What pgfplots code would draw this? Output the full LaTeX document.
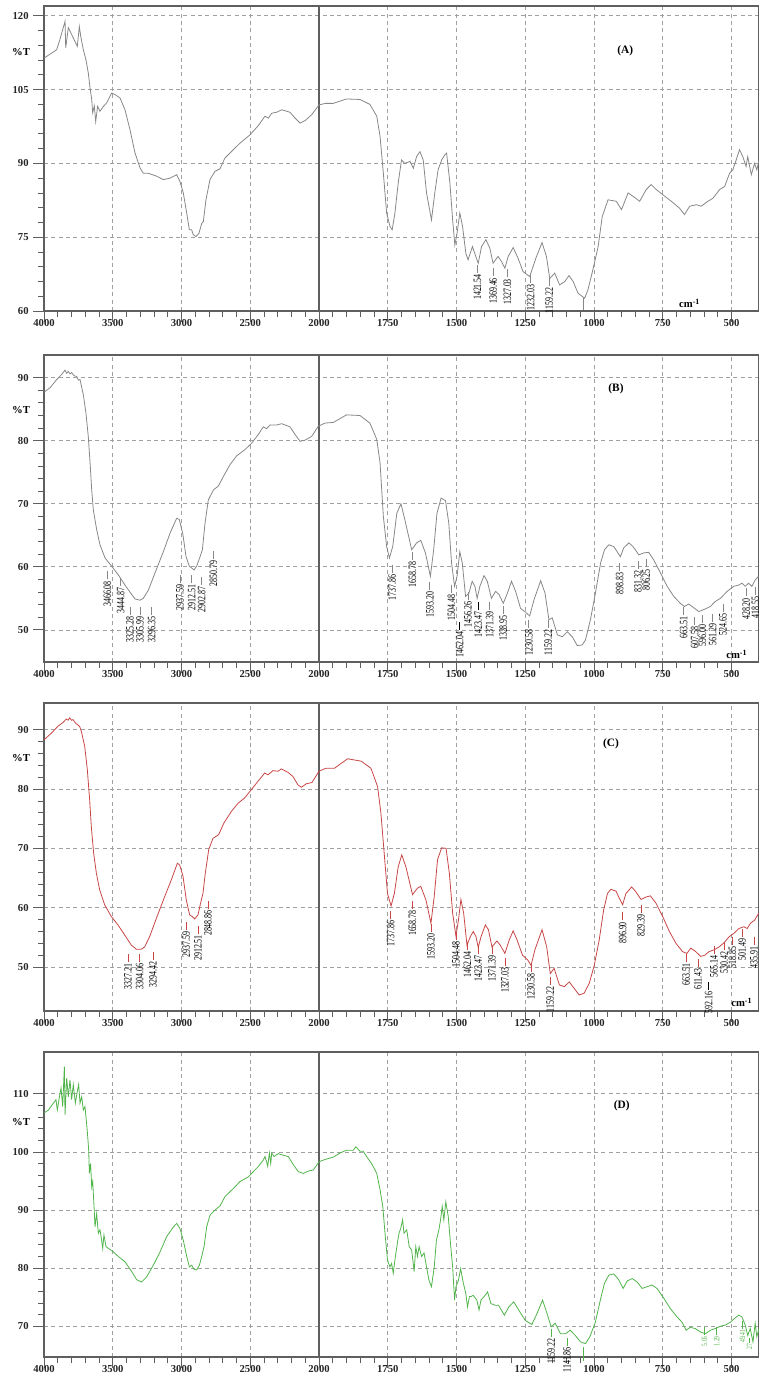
\documentclass[border=0pt]{standalone}
\usepackage{pgfplots}
\pgfplotsset{compat=1.18}
\usepackage{fontspec}
\setmainfont{Liberation Serif}
\newfontfamily\pkfont[FakeStretch=0.7]{Liberation Serif}
\definecolor{cA}{RGB}{135,135,135}
\definecolor{cC}{RGB}{200,70,70}
\definecolor{cD}{RGB}{80,180,75}
\definecolor{gridc}{RGB}{160,160,160}
\definecolor{framec}{RGB}{95,95,95}

\pgfplotsset{
  x coord trafo/.code={\pgfmathparse{ifthenelse(#1>=2000,(4000-#1)/2,3000-#1)}},
  ftir/.style={
    scale only axis, width=536.25pt, anchor=south west,
    xmin=4000, xmax=400, clip mode=individual,
    xtick={4000,3500,3000,2500,2000,1750,1500,1250,1000,750,500},
    xticklabels={4000,3500,3000,2500,2000,1750,1500,1250,1000,750,500},
    minor x tick num=4, minor y tick num=4,
    extra x ticks={2000}, extra x tick labels={},
    extra x tick style={major grid style={solid,framec,line width=1.1pt}},
    grid=major, major grid style={gridc, line width=0.5pt, dash pattern=on 3pt off 2.5pt},
    axis line style={framec, line width=0.9pt},
    tick style={framec, line width=0.6pt},
    tick align=outside, xtick pos=bottom, ytick pos=left,
    major tick length=8pt, minor tick length=4.5pt,
    tick label style={font=\bfseries\fontsize{8}{9}\selectfont, text=black!85},
    xticklabel style={yshift=5.5pt},
    /pgf/number format/assume math mode=true,
  },
}
\tikzset{
  pk/.style={rotate=90, anchor=east, inner sep=0pt, font=\pkfont\fontsize{8.5}{9}\selectfont},
  pks/.style={rotate=90, anchor=east, inner sep=0pt, font=\pkfont\fontsize{6}{6}\selectfont},
}
\newcommand\pk[4][black]{\node[pk] at (axis cs:#2,#3) {#4\hspace{1.2pt}\textcolor{#1}{\rule[0.3em]{6pt}{0.5pt}}};}
\newcommand\pkl[4][black]{\node[pk] at (axis cs:#2,#3) {\textcolor{#1}{\rule[0.3em]{#4}{0.6pt}}};}

\begin{document}
\begin{tikzpicture}
\path[use as bounding box] (0,0) rectangle (569.25pt,1032pt);

% ---------------- (A)
\begin{axis}[ftir, at={(33pt,798.75pt)}, height=228.75pt,
  ymin=60, ymax=122, ytick={60,75,90,105,120},
  extra description/.code={
    \node[font=\bfseries\fontsize{8}{9}\selectfont] at (-0.032,0.849) {\%T};
    \node[font=\bfseries\fontsize{8.5}{9}\selectfont] at (0.813,0.852) {(A)};
    \node[font=\bfseries\fontsize{8}{9}\selectfont] at (0.903,0.025) {cm\textsuperscript{-1}};
  }]
\addplot[cA, line width=0.6pt] coordinates {
(4000,111.4)(3908,113.1)(3884,115.2)(3847,118.9)(3842,113.5)(3823,117.6)(3799,116.2)(3775,114.8)
(3758,113.8)(3743,117.8)(3733,115.9)(3714,113.1)(3695,111.1)(3678,108.4)(3665,105.3)(3653,103.0)
(3646,100.3)(3634,101.7)(3624,98.5)(3610,101.6)(3593,100.6)(3568,101.6)(3544,102.3)(3508,104.3)
(3484,104.0)(3447,103.3)(3411,100.9)(3375,96.9)(3338,92.1)(3302,89.1)(3278,88.0)(3241,88.0)
(3181,87.4)(3132,86.7)(3084,87.0)(3035,87.7)(3011,86.3)(2987,84.0)(2962,79.9)(2943,76.5)
(2926,76.5)(2914,75.5)(2895,75.1)(2873,75.8)(2853,77.8)(2841,78.2)(2822,82.6)(2793,86.7)
(2756,88.4)(2720,88.9)(2684,91.1)(2623,92.8)(2575,94.1)(2502,95.8)(2441,97.7)(2393,99.6)
(2368,99.2)(2344,100.2)(2308,100.4)(2271,100.9)(2211,100.4)(2174,99.2)(2138,98.2)(2101,98.7)
(2053,99.9)(2000,101.9)(1976,102.2)(1948,102.2)(1900,103.1)(1851,103.0)(1815,102.0)(1790,99.6)
(1778,95.5)(1766,88.0)(1754,79.9)(1742,77.2)(1734,76.5)(1724,79.9)(1712,86.0)(1700,90.7)
(1688,90.0)(1669,90.4)(1657,89.0)(1645,91.4)(1633,92.4)(1621,90.7)(1609,84.0)(1591,78.5)
(1579,84.0)(1567,88.7)(1554,90.7)(1542,91.8)(1536,92.1)(1524,86.0)(1514,78.5)(1506,73.4)
(1498,75.8)(1488,79.9)(1478,77.2)(1466,71.7)(1458,70.4)(1442,73.1)(1430,71.1)(1421,69.7)
(1409,73.1)(1393,74.5)(1379,72.8)(1367,69.7)(1349,71.1)(1336,70.0)(1324,68.7)(1312,71.1)
(1294,72.9)(1276,70.7)(1258,68.0)(1234,67.0)(1209,71.1)(1189,73.9)(1173,71.1)(1161,66.6)
(1143,67.7)(1125,65.3)(1106,66.0)(1091,67.2)(1076,66.0)(1058,63.6)(1034,62.6)(1022,64.3)
(1004,68.4)(985,73.1)(970,79.2)(949,82.6)(919,82.3)(900,80.6)(876,84.0)(858,83.3)
(834,82.3)(810,84.7)(792,85.7)(774,84.7)(749,83.6)(719,82.3)(689,80.9)(671,79.6)
(652,81.3)(628,81.6)(610,81.3)(586,82.3)(568,82.9)(543,84.7)(525,85.3)(507,88.0)
(495,88.7)(483,90.7)(471,92.8)(459,91.4)(447,89.4)(441,91.4)(428,87.7)(416,90.0)
(408,88.7)(400,90.7)};
\pk[cA]{1424}{69.5}{1421.54}
\pk[cA]{1367}{68.7}{1369.46}
\pk[cA]{1315}{68.5}{1327.03}
\pk[cA]{1230}{67.4}{1232.03}
\pk[cA]{1163}{66.7}{1159.22}
\pkl[cA]{1034}{62.6}{9pt}
\end{axis}

% ---------------- (B)
\begin{axis}[ftir, at={(33pt,535.5pt)}, height=230.25pt,
  ymin=44.9, ymax=93.6, ytick={50,60,70,80,90},
  extra description/.code={
    \node[font=\bfseries\fontsize{8}{9}\selectfont] at (-0.032,0.821) {\%T};
    \node[font=\bfseries\fontsize{8.5}{9}\selectfont] at (0.80,0.889) {(B)};
    \node[font=\bfseries\fontsize{8}{9}\selectfont] at (0.969,0.025) {cm\textsuperscript{-1}};
  }]
\addplot[cA, line width=0.6pt] coordinates {
(4000,87.7)(3956,88.4)(3908,89.7)(3872,90.5)(3847,91.2)(3835,90.7)(3823,91.0)(3811,90.6)(3799,90.8)
(3780,90.3)(3762,90.2)(3750,89.6)(3738,89.7)(3714,87.3)(3695,84.4)(3678,80.7)(3665,76.5)
(3653,72.2)(3641,69.0)(3617,65.9)(3593,63.5)(3556,61.4)(3508,60.1)(3459,58.7)(3411,57.1)
(3362,55.6)(3338,54.9)(3302,54.7)(3278,55.0)(3241,56.3)(3193,59.0)(3132,62.4)(3084,65.3)
(3035,67.7)(3016,67.5)(2991,65.3)(2967,61.6)(2943,60.1)(2926,59.8)(2909,59.5)(2890,60.1)
(2865,61.6)(2848,62.7)(2829,66.9)(2805,70.6)(2768,72.2)(2732,72.8)(2696,74.3)(2647,76.2)
(2599,77.6)(2538,78.6)(2490,79.6)(2441,81.0)(2405,82.2)(2381,81.9)(2356,82.5)(2308,82.5)
(2271,82.7)(2211,82.2)(2174,81.0)(2138,79.9)(2101,80.1)(2053,80.7)(2005,82.3)(1978,82.8)
(1948,82.9)(1900,84.1)(1851,84.0)(1815,82.8)(1790,80.2)(1778,76.5)(1766,68.0)(1754,63.2)
(1744,61.4)(1732,63.2)(1717,68.5)(1702,70.0)(1688,67.5)(1663,62.7)(1645,63.8)(1630,64.2)
(1613,62.2)(1595,58.5)(1583,62.7)(1571,68.5)(1556,70.9)(1540,70.5)(1528,66.9)(1518,60.6)
(1507,56.9)(1498,58.5)(1488,62.4)(1479,60.6)(1467,55.3)(1455,55.8)(1443,57.7)(1433,56.9)
(1425,55.0)(1415,56.9)(1400,58.6)(1388,57.7)(1373,55.0)(1358,56.1)(1345,55.6)(1330,54.2)
(1315,55.8)(1300,57.7)(1285,56.1)(1267,53.4)(1249,52.8)(1234,52.2)(1218,54.8)(1194,57.8)
(1178,55.8)(1164,51.6)(1152,51.9)(1133,49.2)(1115,48.9)(1097,49.7)(1079,48.9)(1061,47.5)
(1043,47.6)(1031,48.4)(1013,51.6)(995,55.8)(976,60.6)(962,62.7)(946,63.5)(928,63.2)
(913,62.2)(904,61.6)(892,63.0)(873,63.8)(858,63.2)(837,61.9)(819,62.2)(801,62.3)
(783,61.1)(758,59.0)(734,56.9)(710,55.3)(686,54.2)(671,53.7)(656,54.1)(637,53.5)
(619,52.9)(607,53.1)(591,53.4)(577,53.7)(559,54.5)(540,55.0)(516,56.1)(492,56.9)
(474,57.1)(462,57.4)(450,56.9)(438,57.4)(426,56.9)(414,57.9)(402,58.5)};
\pk[cA]{3539}{59.3}{3466.08}
\pk[cA]{3442}{58.2}{3444.87}
\pk[cA]{3375}{53.7}{3325.28}
\pk[cA]{3302}{53.7}{3305.99}
\pk[cA]{3217}{53.7}{3296.35}
\pk[cA]{3011}{58.7}{2937.59}
\pk[cA]{2926}{58.7}{2912.51}
\pk[cA]{2853}{58.4}{2902.87}
\pk[cA]{2768}{62.5}{2850.79}
\pk[cA]{1734}{60.3}{1737.86}
\pk[cA]{1660}{62.4}{1658.78}
\pk[cA]{1597}{57.6}{1593.20}
\pk[cA]{1518}{57.1}{1504.48}
\pk[black]{1488}{51.3}{1462.04}
\pk[cA]{1458}{56.1}{1456.26}
\pk[black]{1421}{54.5}{1423.47}
\pk[cA]{1379}{54.5}{1371.39}
\pk[cA]{1330}{53.9}{1328.95}
\pk[cA]{1237}{51.6}{1230.58}
\pk[cA]{1167}{51.6}{1159.22}
\pk[cA]{907}{60.6}{898.83}
\pk[cA]{840}{60.9}{831.32}
\pk[cA]{810}{61.2}{806.25}
\pk[cA]{674}{53.7}{663.51}
\pk[cA]{634}{52.1}{607.58}
\pk[cA]{606}{52.4}{596.00}
\pk[cA]{568}{52.6}{561.29}
\pk[cA]{531}{54.2}{524.65}
\pk[cA]{447}{56.6}{428.20}
\pk[cA]{413}{56.9}{418.55}
\end{axis}

% ---------------- (C)
\begin{axis}[ftir, at={(33pt,273.75pt)}, height=231pt,
  ymin=42.6, ymax=94.5, ytick={50,60,70,80,90},
  extra description/.code={
    \node[font=\bfseries\fontsize{8}{9}\selectfont] at (-0.032,0.821) {\%T};
    \node[font=\bfseries\fontsize{8.5}{9}\selectfont] at (0.793,0.867) {(C)};
    \node[font=\bfseries\fontsize{8}{9}\selectfont] at (0.976,0.028) {cm\textsuperscript{-1}};
  }]
\addplot[cC, line width=0.6pt] coordinates {
(4000,88.3)(3947,89.4)(3898,90.6)(3862,91.2)(3838,91.8)(3825,91.6)(3813,92.0)(3800,91.6)(3789,91.7)
(3770,91.1)(3753,90.8)(3740,90.5)(3728,89.7)(3704,87.2)(3685,83.3)(3668,78.2)(3656,73.7)
(3639,69.2)(3619,65.8)(3595,63.0)(3559,60.5)(3510,58.5)(3462,57.1)(3413,55.4)(3365,53.7)
(3328,53.0)(3292,53.0)(3268,53.4)(3232,55.1)(3183,58.2)(3122,61.9)(3074,64.7)(3030,67.5)
(3013,67.2)(2989,65.3)(2965,61.3)(2941,58.8)(2921,58.5)(2904,58.1)(2880,58.8)(2861,60.8)
(2844,62.4)(2827,65.8)(2802,69.8)(2771,71.7)(2730,72.3)(2691,74.3)(2638,76.2)(2589,77.6)
(2541,78.5)(2492,79.9)(2444,81.3)(2395,82.7)(2371,82.4)(2335,83.1)(2298,83.0)(2274,83.4)
(2225,82.8)(2189,82.1)(2153,80.7)(2128,80.3)(2092,80.9)(2051,81.1)(2000,83.0)(1975,83.5)
(1944,83.5)(1896,85.1)(1847,84.7)(1811,83.5)(1787,80.4)(1775,76.0)(1763,69.2)(1751,62.4)
(1738,60.3)(1726,62.4)(1712,66.9)(1699,68.9)(1684,66.9)(1660,62.2)(1642,63.3)(1630,63.6)
(1611,61.3)(1593,57.4)(1581,61.9)(1569,68.1)(1554,70.1)(1538,70.0)(1526,65.8)(1514,59.1)
(1502,55.2)(1493,57.9)(1484,61.4)(1474,59.1)(1462,53.7)(1450,55.1)(1439,56.0)(1429,55.1)
(1421,53.3)(1411,55.1)(1395,57.1)(1384,56.3)(1371,53.4)(1353,54.4)(1341,53.7)(1324,52.3)
(1308,54.6)(1294,56.1)(1280,54.6)(1260,52.0)(1241,51.2)(1229,50.3)(1215,52.9)(1189,56.3)
(1172,53.4)(1159,48.9)(1145,49.8)(1126,47.0)(1108,46.7)(1090,47.5)(1072,46.4)(1054,45.3)
(1036,45.6)(1017,47.3)(999,50.3)(981,54.6)(965,59.6)(951,62.4)(939,63.1)(920,62.8)
(908,61.6)(896,60.5)(884,62.4)(863,63.5)(848,62.7)(829,61.4)(811,61.8)(795,62.0)
(775,60.8)(750,58.5)(726,56.0)(702,54.0)(678,52.6)(662,52.3)(648,53.2)(630,52.6)
(612,51.8)(597,52.0)(582,52.6)(564,52.9)(545,53.4)(527,54.1)(509,55.1)(491,55.7)
(473,56.5)(455,56.8)(443,56.5)(431,57.4)(416,57.9)(401,59.1)};
\pk[cC]{3389}{52.25}{3327.21}
\pk[cC]{3304}{52.25}{3304.06}
\pk[cC]{3207}{52.55}{3294.42}
\pk[cC]{2965}{57.65}{2937.59}
\pk[cC]{2880}{57.05}{2912.51}
\pk[cC]{2807}{61.25}{2848.86}
\pk[cC]{1739}{59.55}{1737.86}
\pk[cC]{1660}{61.25}{1658.78}
\pk[cC]{1593}{57.35}{1593.20}
\pk[cC]{1502}{55.95}{1504.48}
\pk[cC]{1460}{54.25}{1462.04}
\pk[cC]{1421}{53.65}{1423.47}
\pk[cC]{1371}{53.65}{1371.39}
\pk[cC]{1324}{51.65}{1327.03}
\pk[cC]{1229}{50.55}{1230.58}
\pk[cC]{1159}{48.35}{1159.22}
\pk[cC]{896}{59.25}{896.90}
\pk[cC]{829}{60.45}{829.39}
\pk[cC]{665}{52.25}{663.51}
\pk[cC]{622}{51.45}{611.43}
\pk[black]{583}{47.6}{592.16}
\pk[cC]{564}{53.65}{565.14}
\pk[cC]{527}{54.25}{530.42}
\pk[cC]{497}{55.05}{518.85}
\pk[cC]{461}{56.45}{501.49}
\pk[cC]{418}{55.05}{435.91}
\end{axis}

% ---------------- (D)
\begin{axis}[ftir, at={(33pt,14.25pt)}, height=228.75pt,
  ymin=64.7, ymax=117.2, ytick={70,80,90,100,110},
  extra description/.code={
    \node[font=\bfseries\fontsize{8}{9}\selectfont] at (-0.032,0.770) {\%T};
    \node[font=\bfseries\fontsize{8.5}{9}\selectfont] at (0.808,0.823) {(D)};
  }]
\addplot[cD, line width=0.6pt] coordinates {
(4000,106.7)(3968,107.2)(3932,108.4)(3913,109.0)(3903,107.2)(3888,109.5)(3876,111.0)(3864,107.8)
(3852,114.7)(3847,106.4)(3835,112.7)(3823,109.5)(3811,112.4)(3799,109.0)(3787,111.6)(3772,108.4)
(3758,110.4)(3748,111.6)(3738,108.4)(3726,109.5)(3714,107.2)(3702,107.8)(3690,104.9)(3682,102.6)
(3675,100.3)(3670,96.3)(3661,98.0)(3653,94.0)(3646,94.9)(3636,90.6)(3629,87.1)(3617,89.4)
(3605,86.0)(3593,86.6)(3581,84.8)(3573,83.4)(3564,85.7)(3549,83.7)(3532,83.4)(3496,82.8)
(3459,82.0)(3411,81.1)(3362,79.4)(3326,78.0)(3290,77.6)(3253,78.5)(3205,80.5)(3156,82.8)
(3108,85.4)(3059,87.1)(3035,87.7)(3011,86.8)(2987,84.8)(2962,82.0)(2943,80.2)(2926,80.5)
(2909,79.8)(2890,79.7)(2870,80.5)(2853,82.0)(2836,83.7)(2817,87.1)(2793,89.1)(2756,90.0)
(2720,90.7)(2684,92.3)(2623,93.7)(2575,94.9)(2514,95.7)(2478,96.6)(2441,97.5)(2405,98.6)
(2393,99.2)(2381,98.3)(2373,97.5)(2361,99.8)(2351,98.0)(2344,99.8)(2327,99.2)(2296,99.7)
(2271,99.5)(2223,99.2)(2187,97.8)(2150,96.6)(2114,96.3)(2078,96.7)(2041,96.9)(2000,98.3)
(1978,98.7)(1948,99.1)(1924,99.8)(1900,100.3)(1875,100.3)(1866,100.9)(1851,100.1)(1839,100.1)
(1827,99.2)(1809,98.0)(1790,96.3)(1778,93.5)(1768,90.6)(1760,86.0)(1751,81.4)(1742,80.2)
(1736,80.8)(1730,79.1)(1724,81.4)(1715,84.3)(1709,86.0)(1703,86.8)(1696,88.3)(1691,86.0)
(1681,86.6)(1672,83.7)(1663,83.1)(1654,79.4)(1648,83.7)(1642,82.0)(1636,83.7)(1627,82.0)
(1618,82.6)(1609,80.2)(1600,77.9)(1591,76.8)(1581,80.2)(1573,84.8)(1564,86.6)(1558,88.3)
(1552,90.6)(1546,88.3)(1539,91.4)(1530,88.9)(1522,84.3)(1514,80.2)(1507,74.5)(1502,76.8)
(1493,77.9)(1485,79.9)(1475,77.4)(1466,75.6)(1460,73.3)(1453,75.1)(1448,75.1)(1439,75.3)
(1426,74.5)(1418,72.8)(1411,74.5)(1396,75.3)(1387,75.9)(1375,73.9)(1359,73.6)(1347,73.6)
(1326,71.9)(1310,73.3)(1292,74.2)(1274,72.8)(1250,71.0)(1226,70.3)(1207,72.2)(1187,74.5)
(1171,72.2)(1156,69.9)(1141,70.5)(1122,68.7)(1104,68.7)(1086,69.3)(1068,68.4)(1049,67.3)
(1031,67.0)(1015,68.2)(995,70.7)(977,74.5)(962,77.4)(946,78.8)(928,79.0)(910,78.0)
(894,76.5)(879,77.8)(861,78.2)(843,77.6)(825,76.5)(807,76.8)(789,77.1)(771,76.5)
(746,74.8)(722,73.0)(698,71.6)(680,70.7)(665,69.3)(650,69.8)(632,69.6)(613,69.0)
(595,68.7)(577,69.3)(559,69.6)(540,70.0)(522,70.2)(504,70.7)(490,71.3)(474,71.9)
(462,71.6)(450,70.2)(441,68.4)(432,69.6)(422,67.3)(414,70.5)(408,68.2)(400,69.6)};
\pk[cD]{1156}{69.6}{1159.22}
\pk[cD]{1098}{68.1}{1141.86}
\pkl[cD]{1031}{66.4}{10pt}
\node[pks, text=cD] at (axis cs:598,69.9) {5.05\hspace{1pt}\rule[0.3em]{6pt}{0.5pt}};
\node[pks, text=cD] at (axis cs:554,69.9) {1.29\hspace{1pt}\rule[0.3em]{6pt}{0.5pt}};
\node[pks, text=cD] at (axis cs:460,71.0) {49.41\hspace{1pt}\rule[0.3em]{6pt}{0.5pt}};
\node[pks, text=cD] at (axis cs:435,68.1) {27\hspace{1pt}\rule[0.3em]{4pt}{0.5pt}};
\end{axis}
\end{tikzpicture}
\end{document}
